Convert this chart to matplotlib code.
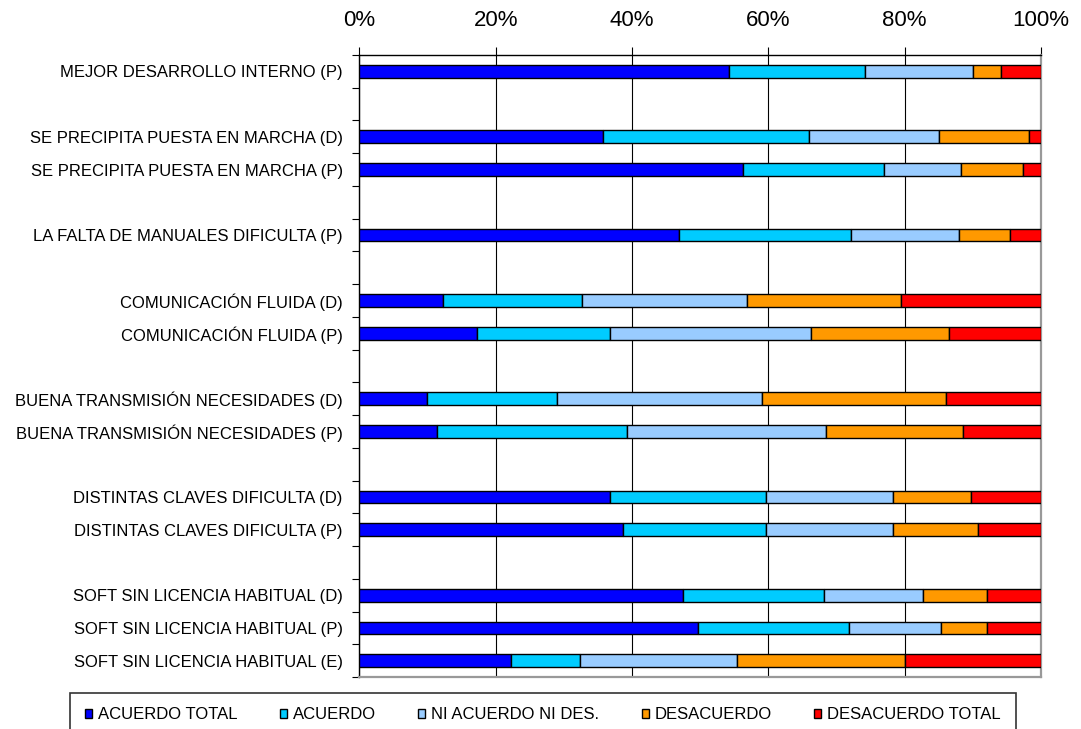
import matplotlib as mpl
mpl.use('Agg')
from matplotlib import pyplot as plt
from matplotlib.ticker import FuncFormatter, FixedLocator
import numpy as np

# rows grouped by item; a blank row separates each group
groups = [
    ['MEJOR DESARROLLO INTERNO (P)'],
    ['SE PRECIPITA PUESTA EN MARCHA (D)', 'SE PRECIPITA PUESTA EN MARCHA (P)'],
    ['LA FALTA DE MANUALES DIFICULTA (P)'],
    ['COMUNICACIÓN FLUIDA (D)', 'COMUNICACIÓN FLUIDA (P)'],
    ['BUENA TRANSMISIÓN NECESIDADES (D)', 'BUENA TRANSMISIÓN NECESIDADES (P)'],
    ['DISTINTAS CLAVES DIFICULTA (D)', 'DISTINTAS CLAVES DIFICULTA (P)'],
    ['SOFT SIN LICENCIA HABITUAL (D)', 'SOFT SIN LICENCIA HABITUAL (P)',
     'SOFT SIN LICENCIA HABITUAL (E)'],
]

series_names = ['ACUERDO TOTAL', 'ACUERDO', 'NI ACUERDO NI DES.',
                'DESACUERDO', 'DESACUERDO TOTAL']

# % of answers, same row order as groups
acuerdo_total    = [54.3, 35.8, 56.3, 46.9, 12.3, 17.3, 10.0, 11.4, 36.7, 38.7, 47.5, 49.7, 22.3]
acuerdo          = [19.9, 30.2, 20.6, 25.2, 20.3, 19.4, 19.0, 27.9, 22.9, 20.9, 20.6, 22.2, 10.0]
ni_acuerdo       = [15.8, 19.1, 11.4, 15.9, 24.3, 29.6, 30.0, 29.1, 18.7, 18.7, 14.6, 13.5, 23.1]
desacuerdo       = [4.2, 13.2, 9.1, 7.4, 22.6, 20.2, 27.0, 20.2, 11.5, 12.4, 9.4, 6.7, 24.6]
desacuerdo_total = [5.8, 1.7, 2.6, 4.6, 20.5, 13.5, 14.0, 11.4, 10.2, 9.3, 7.9, 7.9, 20.0]

colors = ['#0000FF', '#00CCFF', '#99CCFF', '#FF9900', '#FF0000']

plt.rcParams['font.family'] = ['Liberation Sans', 'DejaVu Sans']

# row slots, leaving one empty slot between groups
labels, ypos = [], []
slot = 0
for g in groups:
    for name in g:
        labels.append(name)
        ypos.append(slot)
        slot += 1
    slot += 1
nslots = slot - 1
ypos = np.array(ypos)

fig = plt.figure(figsize=(10.81, 7.29), dpi=100, facecolor='w')
ax = fig.add_axes([0.3324, 0.0713, 0.6306, 0.8533])

left = np.zeros(len(labels))
data = [acuerdo_total, acuerdo, ni_acuerdo, desacuerdo, desacuerdo_total]
for vals, name, c in zip(data, series_names, colors):
    vals = np.array(vals)
    ax.barh(ypos, vals, left=left, height=0.39, color=c, edgecolor='black',
            linewidth=1.0, label=name, zorder=3)
    left += vals

ax.set_xlim(0, 100)
ax.set_ylim(nslots - 0.5, -0.5)
ax.set_axisbelow(True)
ax.grid(visible=True, axis='x', color='black', linewidth=0.8)

ax.xaxis.tick_top()
ax.set_xticks(np.arange(0, 101, 20))
ax.xaxis.set_major_formatter(FuncFormatter(lambda x, pos: f'{x:.0f}%'))
ax.tick_params(axis='x', which='major', direction='out', length=6, width=0.8,
               labelsize=16, pad=11)

ax.set_yticks(ypos)
ax.set_yticklabels(labels)
ax.tick_params(axis='y', which='major', length=0, labelsize=12, pad=12)
ax.yaxis.set_minor_locator(FixedLocator(np.arange(-0.5, nslots, 1.0)))
ax.tick_params(axis='y', which='minor', direction='out', length=5, width=0.8)

for side in ('left', 'top'):
    ax.spines[side].set_color('black')
    ax.spines[side].set_linewidth(1.0)
for side in ('right', 'bottom'):
    ax.spines[side].set_color('#999999')
    ax.spines[side].set_linewidth(1.6)

# legend box runs off the bottom edge of the figure
leg = fig.legend(loc='upper left', bbox_to_anchor=(0.0648, 0.0494), ncol=5,
                 fontsize=12, frameon=True, fancybox=False, shadow=False,
                 borderaxespad=0, handlelength=0.42, handleheight=0.42,
                 handletextpad=0.36, columnspacing=2.55, borderpad=0.87)
leg.get_frame().set_edgecolor('black')
leg.get_frame().set_linewidth(1.2)

fig.savefig('out.png', dpi=100, facecolor='w')
